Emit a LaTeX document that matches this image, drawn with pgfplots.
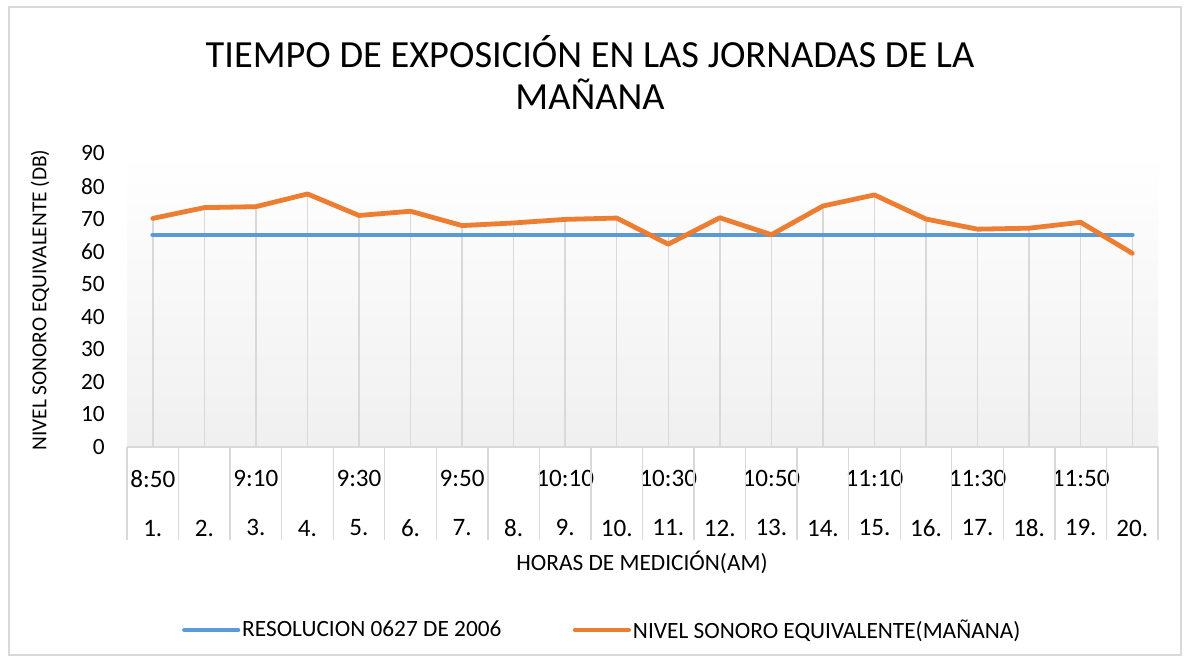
\documentclass[border=0pt]{standalone}
\usepackage{pgfplots}
\pgfplotsset{compat=1.18}
\usepackage{fontspec}
\setmainfont{Carlito}
\definecolor{cblue}{HTML}{5B9BD5}
\definecolor{corange}{HTML}{ED7D31}
\definecolor{cgrid}{HTML}{D9D9D9}
\begin{document}
\begin{tikzpicture}
\path[use as bounding box, fill=white] (0pt,0pt) rectangle (890.25pt,-495.75pt);
\draw[cgrid, line width=0.8pt] (6.75pt,-5.25pt) rectangle (885.75pt,-491.25pt);
\node[align=center, font=\fontsize{28.8}{31.5}\selectfont] at (442.5pt,-54pt) {TIEMPO DE EXPOSICIÓN EN LAS JORNADAS DE LA\\MAÑANA};
\begin{axis}[
  at={(95.25pt,-335.25pt)}, anchor=south west,
  scale only axis, width=773.25pt, height=220.125pt,
  xmin=0.5, xmax=20.5, ymin=0, ymax=90,
  axis x line*=bottom, axis y line*=left,
  x axis line style={cgrid, line width=1pt, -},
  y axis line style={draw=none},
  axis background/.style={top color=white, bottom color=black!6},
  xtick={1,...,20},
  xticklabels={{8:50\\[16pt]1.},{\phantom{8:50}\\[16pt]2.},{9:10\\[16pt]3.},{\phantom{8:50}\\[16pt]4.},{9:30\\[16pt]5.},{\phantom{8:50}\\[16pt]6.},{9:50\\[16pt]7.},{\phantom{8:50}\\[16pt]8.},{10:10\\[16pt]9.},{\phantom{8:50}\\[16pt]10.},{10:30\\[16pt]11.},{\phantom{8:50}\\[16pt]12.},{10:50\\[16pt]13.},{\phantom{8:50}\\[16pt]14.},{11:10\\[16pt]15.},{\phantom{8:50}\\[16pt]16.},{11:30\\[16pt]17.},{\phantom{8:50}\\[16pt]18.},{11:50\\[16pt]19.},{\phantom{8:50}\\[16pt]20.}},
  xticklabel style={anchor=north, align=center, inner sep=0pt, yshift=-17pt, font=\fontsize{18.8}{20.75}\selectfont},
  major tick length=0pt,
  extra x ticks={0.5,1.5,...,20.5},
  extra x tick labels={},
  extra x tick style={major tick length=69.75pt, tick align=outside, tick style={cgrid, line width=1pt}},
  ytick={0,10,...,90},
  yticklabel style={anchor=east, inner sep=0pt, xshift=-16.5pt, font=\fontsize{17.5}{20}\selectfont},
  /pgf/number format/assume math mode=true,
  legend style={at={(0.461,-0.6235)}, anchor=center, draw=none, fill=none, legend columns=2,
    font=\fontsize{17.5}{20}\selectfont, nodes={inner sep=1.5pt},
    /tikz/every even column/.append style={column sep=52pt}},
  legend image code/.code={\draw[#1, line cap=round] (0pt,0pt) -- (40pt,0pt);},
  clip=false,
]
\addplot[ycomb, draw=cgrid, line width=1.1pt, no marks, forget plot] coordinates {
(1,70.1) (2,73.4) (3,73.7) (4,77.6) (5,71.0) (6,72.3) (7,67.9) (8,68.7) (9,69.8) (10,70.2)
(11,65.0) (12,70.3) (13,65.1) (14,73.9) (15,77.3) (16,69.9) (17,66.8) (18,67.1) (19,68.9) (20,65.0)};
\addplot[cblue, line width=3.6pt, line cap=round, no marks] coordinates {
(1,65) (2,65) (3,65) (4,65) (5,65) (6,65) (7,65) (8,65) (9,65) (10,65)
(11,65) (12,65) (13,65) (14,65) (15,65) (16,65) (17,65) (18,65) (19,65) (20,65)};
\addlegendentry{RESOLUCION 0627 DE 2006}
\addplot[corange, line width=3.6pt, line cap=round, line join=round, no marks] coordinates {
(1,70.1) (2,73.4) (3,73.7) (4,77.6) (5,71.0) (6,72.3) (7,67.9) (8,68.7) (9,69.8) (10,70.2)
(11,62.2) (12,70.3) (13,65.1) (14,73.9) (15,77.3) (16,69.9) (17,66.8) (18,67.1) (19,68.9) (20,59.4)};
\addlegendentry{NIVEL SONORO EQUIVALENTE(MAÑANA)}
\end{axis}
\node[rotate=90, font=\fontsize{16}{19}\selectfont] at (30pt,-225pt) {NIVEL SONORO EQUIVALENTE (DB)};
\node[font=\fontsize{17.5}{20}\selectfont] at (481.5pt,-421.5pt) {HORAS DE MEDICIÓN(AM)};
\end{tikzpicture}
\end{document}
